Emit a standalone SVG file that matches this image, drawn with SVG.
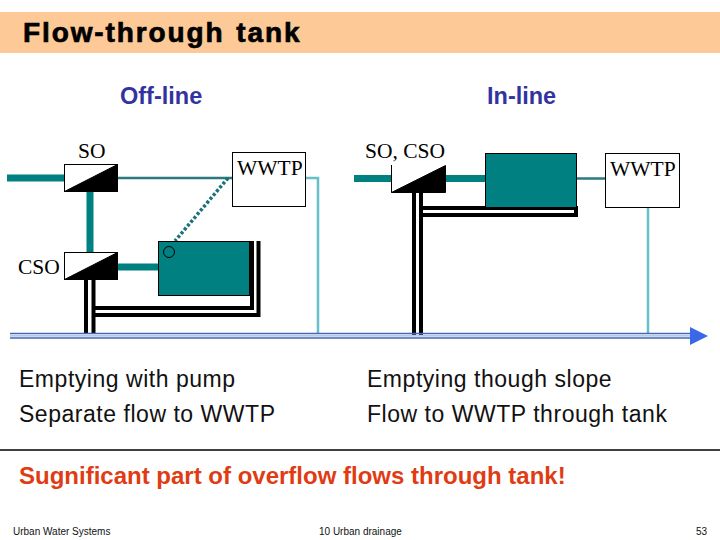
<svg xmlns="http://www.w3.org/2000/svg" width="720" height="540" viewBox="0 0 720 540">
<style>
.s{font-family:"Liberation Serif",serif;font-size:21.500px;fill:#000}
.a{font-family:"Liberation Sans",Arial,sans-serif}
.h{font-size:23.500px;font-weight:bold;fill:#3333a0}
.b{font-size:23px;fill:#111;letter-spacing:.53px}
.f{font-size:10px;fill:#111}
.box{fill:#fff;stroke:#000;stroke-width:1}
.tank{fill:#008080;stroke:#000;stroke-width:1}
.thick{stroke:#008080;stroke-width:7;fill:none}
.thin{stroke:#2a7a80;stroke-width:2.500;fill:none}
.light{stroke:#66c0cc;stroke-width:2.500;fill:none}
.blk{stroke:#000;stroke-width:4;fill:none}
</style>
<rect width="720" height="540" fill="#fff"/>
<rect id="title-band" x="0" y="12" width="720" height="41" fill="#fdc997"/>
<text id="title" class="a" x="23" y="42" font-size="28" font-weight="bold" stroke="#000" stroke-width=".7" letter-spacing="1.900" word-spacing="2">Flow-through tank</text>
<text class="a h" x="120" y="104">Off-line</text>
<text class="a h" x="487" y="104">In-line</text>

<g id="connectors">
<path class="thick" d="M7 178H64M90 192V253M118 267H158M354 178.500H391M446 178.500H485"/>
<path class="thin" d="M118 178H232M577 178.500H606"/>
<path d="M228 178L175 241" stroke="#1a7378" stroke-width="3.500" stroke-dasharray="3 2" fill="none"/>
<path class="light" d="M306 178H318V334M648 207V334"/>
<path class="blk" d="M86 280V334M93.500 280V334M93 308H252V241M93 315H258.500V241"/>
<path class="blk" d="M414 193V335M421 193V335M421 208H576V215H421"/>
<g id="river">
<path d="M10 333.500H692M10 338H692" stroke="#4368b4" stroke-width="1.300" fill="none"/>
<path d="M10 335.800H692" stroke="#b8c8e8" stroke-width="2" fill="none"/>
<path d="M690 327L708 336L690 345Z" fill="#3a68e8"/>
</g>
</g>

<g id="so">
<rect class="box" x="64.500" y="164.500" width="53" height="27"/>
<path d="M64.500 191.500L117.500 164.500V191.500Z" fill="#000" stroke="#000"/>
<text class="s" x="78" y="158">SO</text>
</g>
<g id="cso">
<rect class="box" x="64.500" y="252.500" width="53" height="27"/>
<path d="M64.500 279.500L117.500 252.500V279.500Z" fill="#000" stroke="#000"/>
<text class="s" x="18" y="274">CSO</text>
</g>
<g id="wwtp-left">
<rect class="box" x="232.500" y="152.500" width="73" height="54"/>
<text class="s" x="237" y="175">WWTP</text>
</g>
<g id="tank-left">
<rect class="tank" x="158.500" y="241.500" width="91" height="54"/>
<circle cx="169" cy="252" r="5.500" fill="none" stroke="#000" stroke-width="1"/>
</g>
<g id="so-cso">
<path d="M391.500 165V192.500" stroke="#000" fill="none"/>
<path d="M391.500 192.500L445.500 165.500V192.500Z" fill="#000" stroke="#000"/>
<text class="s" x="365" y="158">SO, CSO</text>
</g>
<g id="tank-right">
<rect class="tank" x="485.500" y="153.500" width="91" height="54"/>
</g>
<g id="wwtp-right">
<rect class="box" x="605.500" y="153.500" width="74" height="54"/>
<text class="s" x="610" y="176">WWTP</text>
</g>

<text class="a b" x="19" y="387">Emptying with pump</text>
<text class="a b" x="19" y="422">Separate flow to WWTP</text>
<text class="a b" x="367" y="387">Emptying though slope</text>
<text class="a b" x="367" y="422">Flow to WWTP through tank</text>
<path id="rule" d="M0 450H720" stroke="#000" stroke-width="1.300"/>
<text class="a" x="19" y="484" font-size="24" font-weight="bold" fill="#e03c14">Sugnificant part of overflow flows through tank!</text>
<text class="a f" x="13" y="535">Urban Water Systems</text>
<text class="a f" x="319" y="535">10  Urban drainage</text>
<text class="a f" x="696" y="535">53</text>
</svg>
